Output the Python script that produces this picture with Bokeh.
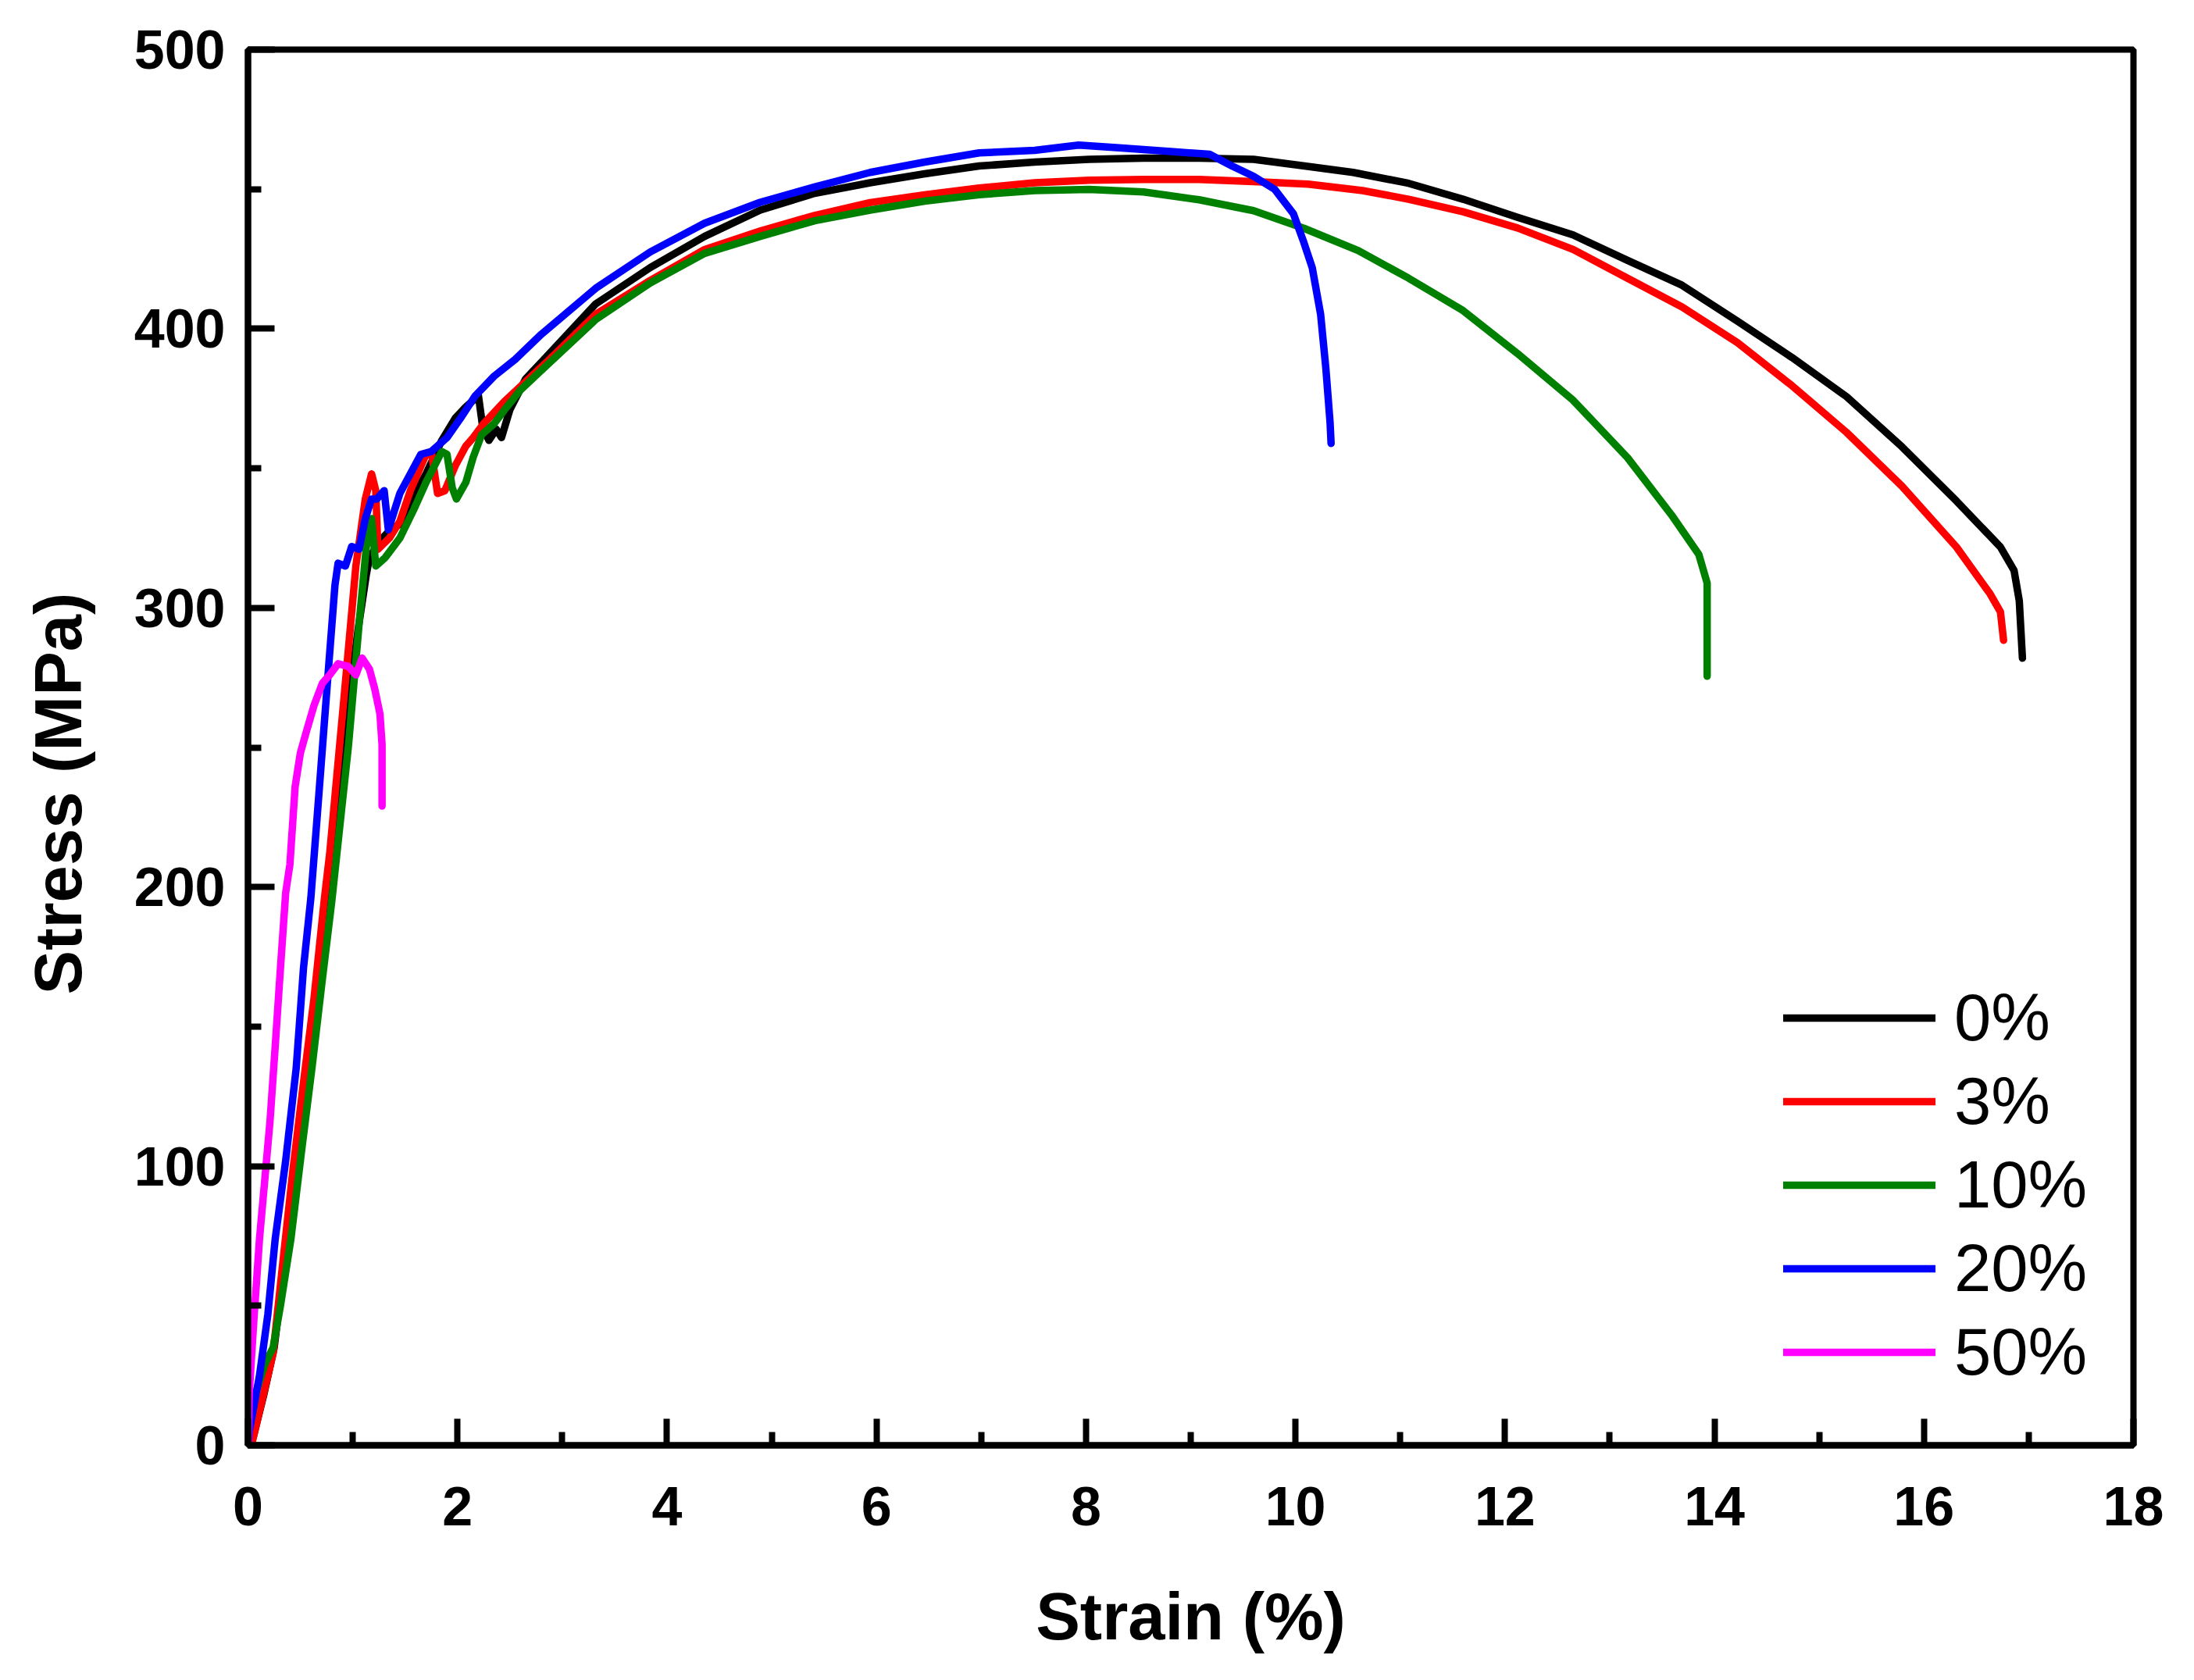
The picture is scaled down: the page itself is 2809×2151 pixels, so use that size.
from bokeh.plotting import figure
from bokeh.models import Range1d, FixedTicker, Legend, LegendItem
from bokeh.embed import file_html
from bokeh.resources import INLINE

# ---------------- data ----------------
series_names = ["0%", "3%", "10%", "20%", "50%"]
series_colors = ["#000000", "#ff0000", "#008000", "#0000ff", "#ff00ff"]

strain_0 = [0, 0.05, 0.15, 0.25, 0.35, 0.45, 0.55, 0.65, 0.75, 0.85, 0.95, 1.05, 1.13, 1.16,
            1.26, 1.36, 1.50, 1.60, 1.70, 1.85, 1.98, 2.08, 2.20, 2.24, 2.30, 2.37, 2.42, 2.50,
            2.65, 2.85, 3.32, 3.84, 4.36, 4.89, 5.41, 5.94, 6.46, 6.98, 7.51, 8.03, 8.55, 9.08,
            9.60, 10.03, 10.55, 11.08, 11.60, 12.12, 12.65, 13.17, 13.69, 14.22, 14.74, 15.26,
            15.79, 16.31, 16.73, 16.86, 16.91, 16.94]
stress_0 = [0, 3, 18, 35, 66, 98, 128, 158, 192, 230, 262, 292, 312, 318,
            324, 328, 331, 341, 348, 360, 368, 372, 376, 365, 360, 364, 361, 371,
            382, 390, 408.9, 421.9, 433.1, 442.5, 448.5, 452.3, 455.5, 458.3, 459.7, 460.7, 461.1, 461.1,
            460.7, 458.6, 456.0, 452.1, 446.4, 439.9, 433.6, 424.5, 415.6, 402.7, 389.7, 375.7,
            357.7, 338.3, 321.8, 313.4, 302.5, 282.0]

strain_3 = [0, 0.04, 0.14, 0.24, 0.34, 0.43, 0.53, 0.63, 0.73, 0.78, 0.91, 1.03, 1.12, 1.18,
            1.22, 1.24, 1.35, 1.45, 1.55, 1.70, 1.75, 1.81, 1.88, 1.98, 2.08, 2.15, 2.25, 2.45,
            2.65, 2.85, 3.32, 3.84, 4.36, 4.89, 5.41, 5.94, 6.46, 6.98, 7.51, 8.03, 8.55, 9.08,
            9.60, 10.12, 10.64, 11.08, 11.60, 12.12, 12.65, 13.17, 13.69, 14.22, 14.74, 15.26,
            15.79, 16.31, 16.63, 16.73, 16.76]
stress_3 = [0, 1, 17, 33, 68, 99, 130, 160, 196, 212, 265, 315, 339, 348,
            342, 321, 325, 331, 342, 355, 356, 341, 342, 351, 358, 361, 366, 374,
            381, 388, 405.2, 417.3, 428.4, 435.0, 440.6, 445.2, 448.0, 450.4, 452.3, 453.2, 453.5, 453.5,
            452.7, 451.8, 449.5, 446.4, 441.9, 436.1, 428.4, 418.1, 407.8, 395.0, 379.6, 362.9,
            343.6, 321.8, 305.1, 298.6, 288.4]

strain_10 = [0, 0, 0.06, 0.16, 0.24, 0.31, 0.41, 0.51, 0.61, 0.71, 0.80, 0.96, 1.06, 1.13,
             1.18, 1.22, 1.31, 1.45, 1.58, 1.70, 1.85, 1.90, 1.95, 1.99, 2.08, 2.15, 2.23, 2.35,
             2.45, 2.60, 2.77, 3.32, 3.84, 4.36, 4.89, 5.41, 5.94, 6.46, 6.98, 7.51, 8.03, 8.55,
             9.08, 9.60, 10.08, 10.60, 11.08, 11.60, 12.12, 12.65, 13.17, 13.59, 13.85, 13.93,
             13.93, 13.93]
stress_10 = [0, 13, 17, 29, 35, 50, 74, 105, 135, 167, 195, 251, 294, 322,
             332, 315, 318, 325, 335, 345, 356, 355, 343, 339, 345, 354, 362, 366,
             371, 378, 384, 403.3, 416.4, 427.0, 433.1, 438.7, 442.5, 445.7, 448.0, 449.5, 449.9, 449.0,
             446.2, 442.3, 436.0, 428.0, 418.1, 406.5, 391.1, 374.4, 353.8, 333.3, 319.2, 308.9,
             289.7, 275.5]

strain_20 = [0, 0.012, 0.11, 0.19, 0.26, 0.36, 0.46, 0.53, 0.60, 0.66, 0.77, 0.83, 0.86, 0.93,
             0.99, 1.06, 1.12, 1.18, 1.23, 1.30, 1.34, 1.45, 1.55, 1.65, 1.75, 1.90, 2.03, 2.17,
             2.35, 2.55, 2.80, 3.32, 3.84, 4.36, 4.89, 5.41, 5.94, 6.46, 6.98, 7.51, 7.93, 8.29,
             8.81, 9.18, 9.39, 9.60, 9.80, 9.98, 10.08, 10.16, 10.24, 10.29, 10.33, 10.34]
stress_20 = [0, 5, 25, 47, 74, 102, 135, 171, 196, 225, 279, 308, 316, 315,
             322, 321, 332, 339, 339, 342, 328, 341, 348, 355, 356, 361, 368, 376,
             383, 389, 398, 414.5, 427.5, 437.8, 445.3, 450.8, 456.0, 459.7, 463.0, 463.9, 465.8, 464.9,
             463.5, 462.5, 458.4, 454.6, 450.0, 441.2, 430.9, 421.9, 405.2, 385.8, 366.6, 358.9]

strain_50 = [0, 0.012, 0.06, 0.11, 0.16, 0.21, 0.26, 0.31, 0.36, 0.40, 0.45, 0.50, 0.56, 0.63,
             0.71, 0.78, 0.86, 0.96, 1.03, 1.09, 1.16, 1.21, 1.26, 1.28, 1.28]
stress_50 = [0, 19, 47, 74, 95, 116, 143, 171, 198, 208, 236, 248, 256, 265,
             273, 276, 280, 279, 276, 282, 278, 271, 262, 251, 229]

x_major = [0, 2, 4, 6, 8, 10, 12, 14, 16, 18]
x_minor = [1, 3, 5, 7, 9, 11, 13, 15, 17]
y_major = [0, 100, 200, 300, 400, 500]
y_minor = [50, 150, 250, 350, 450]

x_title = "Strain (%)"
y_title = "Stress (MPa)"

# ---------------- figure ----------------
FONT = "Liberation Sans"

p = figure(width=2790, height=2135,
           x_range=Range1d(0, 18), y_range=Range1d(0, 500),
           output_backend="svg", toolbar_location=None,
           min_border_left=317, min_border_right=59,
           min_border_top=63, min_border_bottom=285)

p.xgrid.grid_line_color = None
p.ygrid.grid_line_color = None
p.outline_line_color = "black"
p.outline_line_width = 8

p.xaxis.ticker = FixedTicker(ticks=x_major, minor_ticks=x_minor)
p.yaxis.ticker = FixedTicker(ticks=y_major, minor_ticks=y_minor)

for ax in (p.xaxis[0], p.yaxis[0]):
    ax.axis_line_width = 8
    ax.major_tick_in = 34
    ax.major_tick_out = 0
    ax.minor_tick_in = 17
    ax.minor_tick_out = 0
    ax.major_tick_line_width = 8
    ax.minor_tick_line_width = 8
    ax.major_label_text_font = FONT
    ax.major_label_text_font_style = "bold"
    ax.major_label_text_font_size = "70px"
    ax.major_label_text_color = "black"
    ax.axis_label_text_font = FONT
    ax.axis_label_text_font_style = "bold"
    ax.axis_label_text_font_size = "85px"
    ax.axis_label_text_color = "black"

p.xaxis.major_label_standoff = 53
p.yaxis.major_label_standoff = 29
p.xaxis.axis_label = x_title
# trailing no-break spaces shift the rotated title slightly below centre, as in the reference
p.yaxis.axis_label = y_title + "\u00a0" * 5
p.xaxis.axis_label_standoff = 66
p.yaxis.axis_label_standoff = 47

strains = [strain_0, strain_3, strain_10, strain_20, strain_50]
stresses = [stress_0, stress_3, stress_10, stress_20, stress_50]

items = []
for name, col, xs, ys in zip(series_names, series_colors, strains, stresses):
    r = p.line(xs, ys, line_color=col, line_width=9.5, line_join="round", line_cap="round")
    items.append(LegendItem(label=name, renderers=[r]))

legend = Legend(items=items, location=(1966, 67),
                padding=0, margin=0, spacing=3,
                glyph_width=195, glyph_height=104, label_height=104,
                label_standoff=24,
                label_text_font=FONT, label_text_font_size="85px",
                label_text_color="black",
                border_line_color=None, background_fill_alpha=0)
p.add_layout(legend)

open("out.html", "w").write(file_html(p, INLINE))
